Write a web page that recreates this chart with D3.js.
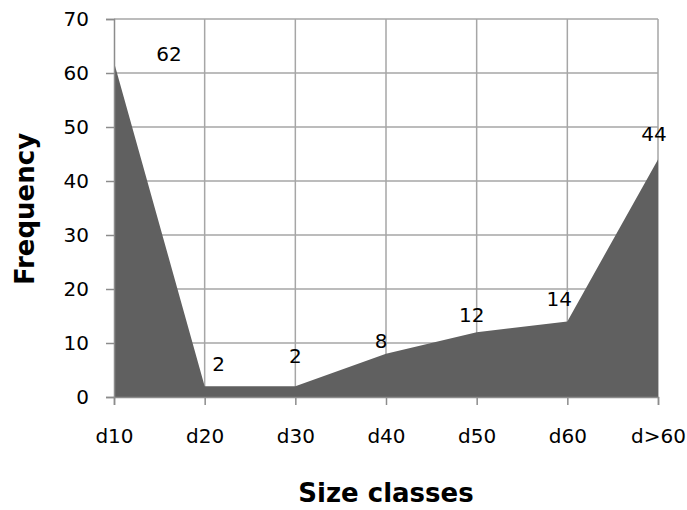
<!DOCTYPE html>
<html>
<head>
<meta charset="utf-8">
<script src="https://cdn.jsdelivr.net/npm/d3@7"></script>
<style>
  body { margin: 0; background: #fff; }
  text { font-family: "DejaVu Sans", sans-serif; }
</style>
</head>
<body>
<div id="chart"></div>
<script>
// data
const categories = ["d10", "d20", "d30", "d40", "d50", "d60", "d>60"];
const frequency = [62, 2, 2, 8, 12, 14, 44];
const yTicks = [0, 10, 20, 30, 40, 50, 60, 70];

// where Excel put each data label, relative to its point (px)
const labelOffsets = [[55, -8], [14, -22], [0, -30], [-5, -13], [-5, -17], [-8, -22], [-4, -25]];

const width = 687, height = 510;
const margin = { top: 19, right: 29, bottom: 113, left: 114 };
const innerWidth = width - margin.left - margin.right;
const innerHeight = height - margin.top - margin.bottom;

const svg = d3.select("#chart")
  .append("svg")
  .attr("width", width)
  .attr("height", height);

const g = svg.append("g")
  .attr("transform", `translate(${margin.left},${margin.top})`);

const x = d3.scalePoint()
  .domain(categories)
  .range([0, innerWidth]);

const y = d3.scaleLinear()
  .domain([0, 70])
  .range([innerHeight, 0]);

// gridlines
g.append("g")
  .selectAll("line.h")
  .data(yTicks.filter(d => d > 0))
  .enter().append("line")
  .attr("x1", 0).attr("x2", innerWidth)
  .attr("y1", d => y(d)).attr("y2", d => y(d))
  .attr("stroke", "#a6a6a6").attr("stroke-width", 1.5);

g.append("g")
  .selectAll("line.v")
  .data(categories.slice(1))
  .enter().append("line")
  .attr("x1", d => x(d)).attr("x2", d => x(d))
  .attr("y1", 0).attr("y2", innerHeight)
  .attr("stroke", "#a6a6a6").attr("stroke-width", 1.5);

// the area
const area = d3.area()
  .x((d, i) => x(categories[i]))
  .y0(y(0))
  .y1(d => y(d));

g.append("path")
  .datum(frequency)
  .attr("fill", "#606060")
  .attr("d", area);

// axes
const yAxis = g.append("g")
  .call(d3.axisLeft(y).tickValues(yTicks).tickSize(8).tickPadding(17));
const xAxis = g.append("g")
  .attr("transform", `translate(0,${innerHeight})`)
  .call(d3.axisBottom(x).tickSize(8).tickPadding(24));

[yAxis, xAxis].forEach(a => {
  a.select(".domain").attr("stroke", "#8c8c8c").attr("stroke-width", 1.5);
  a.selectAll(".tick line").attr("stroke", "#8c8c8c").attr("stroke-width", 1.5);
  a.selectAll(".tick text")
    .attr("fill", "#000")
    .style("font-size", "20px")
    .style("font-family", "DejaVu Sans");
});

// data labels
g.append("g")
  .selectAll("text")
  .data(frequency)
  .enter().append("text")
  .attr("x", (d, i) => x(categories[i]) + labelOffsets[i][0])
  .attr("y", (d, i) => y(d) + labelOffsets[i][1])
  .attr("dy", "0.35em")
  .attr("text-anchor", "middle")
  .style("font-size", "20px")
  .text(d => d);

// axis titles
svg.append("text")
  .attr("x", 386)
  .attr("y", 493)
  .attr("dy", "0.35em")
  .attr("text-anchor", "middle")
  .style("font-size", "26px")
  .style("font-weight", "bold")
  .text("Size classes");

svg.append("text")
  .attr("transform", "translate(25,209) rotate(-90)")
  .attr("dy", "0.35em")
  .attr("text-anchor", "middle")
  .style("font-size", "26px")
  .style("font-weight", "bold")
  .text("Frequency");
</script>
</body>
</html>
